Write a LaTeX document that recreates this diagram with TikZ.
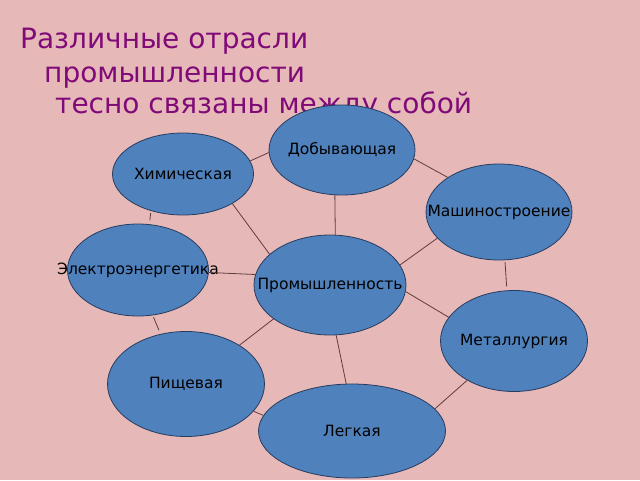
\documentclass[tikz,border=0pt]{standalone}
\usepackage{fontspec}
\setmainfont{DejaVu Sans}
\usepackage{tikz}
\usetikzlibrary{shapes.geometric}

\definecolor{bgpink}{RGB}{230,185,184}
\definecolor{ovalblue}{RGB}{79,129,189}
\definecolor{ovalline}{RGB}{40,60,95}
\definecolor{linkbrown}{RGB}{95,60,60}
\definecolor{titlepurple}{RGB}{128,10,120}

\begin{document}
\begin{tikzpicture}
  [x=1pt,y=-1pt,
   every node/.style={font=\fontsize{15.5}{18}\selectfont},
   oval/.style 2 args={ellipse,draw=ovalline,fill=ovalblue,line width=0.8pt,inner sep=0pt,minimum width=#1pt,minimum height=#2pt},
   title/.style={anchor=base west,inner sep=0pt,text=titlepurple,font=\fontsize{28}{32}\selectfont}]
  \fill[bgpink] (0,0) rectangle (640,480);
  \useasboundingbox (0,0) rectangle (640,480);

  % heading
  \node[title] (t1) at (20,48)  {Различные отрасли};
  \node[title] (t2) at (44,82)  {промышленности};
  \node[title] (t3) at (55,113) {тесно связаны между собой};

  % branches
  \node[oval={146}{90}]  (dob)  at (342,150) {\makebox[0pt]{Добывающая}};
  \node[oval={141}{82}]  (him)  at (183,174) {\makebox[0pt]{Химическая}};
  \node[oval={146}{96}]  (mash) at (499,212) {\makebox[0pt]{Машиностроение}};
  \node[oval={141}{92}]  (el)   at (138,270) {\makebox[0pt]{Электроэнергетика}};
  \node[oval={152}{100}] (prom) at (330,285) {\makebox[0pt]{Промышленность}};
  \node[oval={147}{101}] (met)  at (514,341) {\makebox[0pt]{Металлургия}};
  \node[oval={157}{105}] (pish) at (186,384) {\makebox[0pt]{Пищевая}};
  \node[oval={187}{94}]  (leg)  at (352,431) {\makebox[0pt]{Легкая}};

  \foreach \from/\to in {him.11/dob.182,him.329/prom.153,el.-2/prom.172,dob.261/prom.84,
                         dob.353/mash.146,mash.203/prom.16,prom.355/met.160,prom.277/leg.97,
                         prom.211/pish.36,pish.338/leg.170,met.220/leg.15}
    \draw[linkbrown,line width=0.8pt] (\from) -- (\to);
  \foreach \from/\to in {him.229/el.76,el.288/pish.117,mash.277/met.98}
    \draw[linkbrown,line width=0.8pt,shorten <=2pt,shorten >=4pt] (\from) -- (\to);
\end{tikzpicture}
\end{document}
